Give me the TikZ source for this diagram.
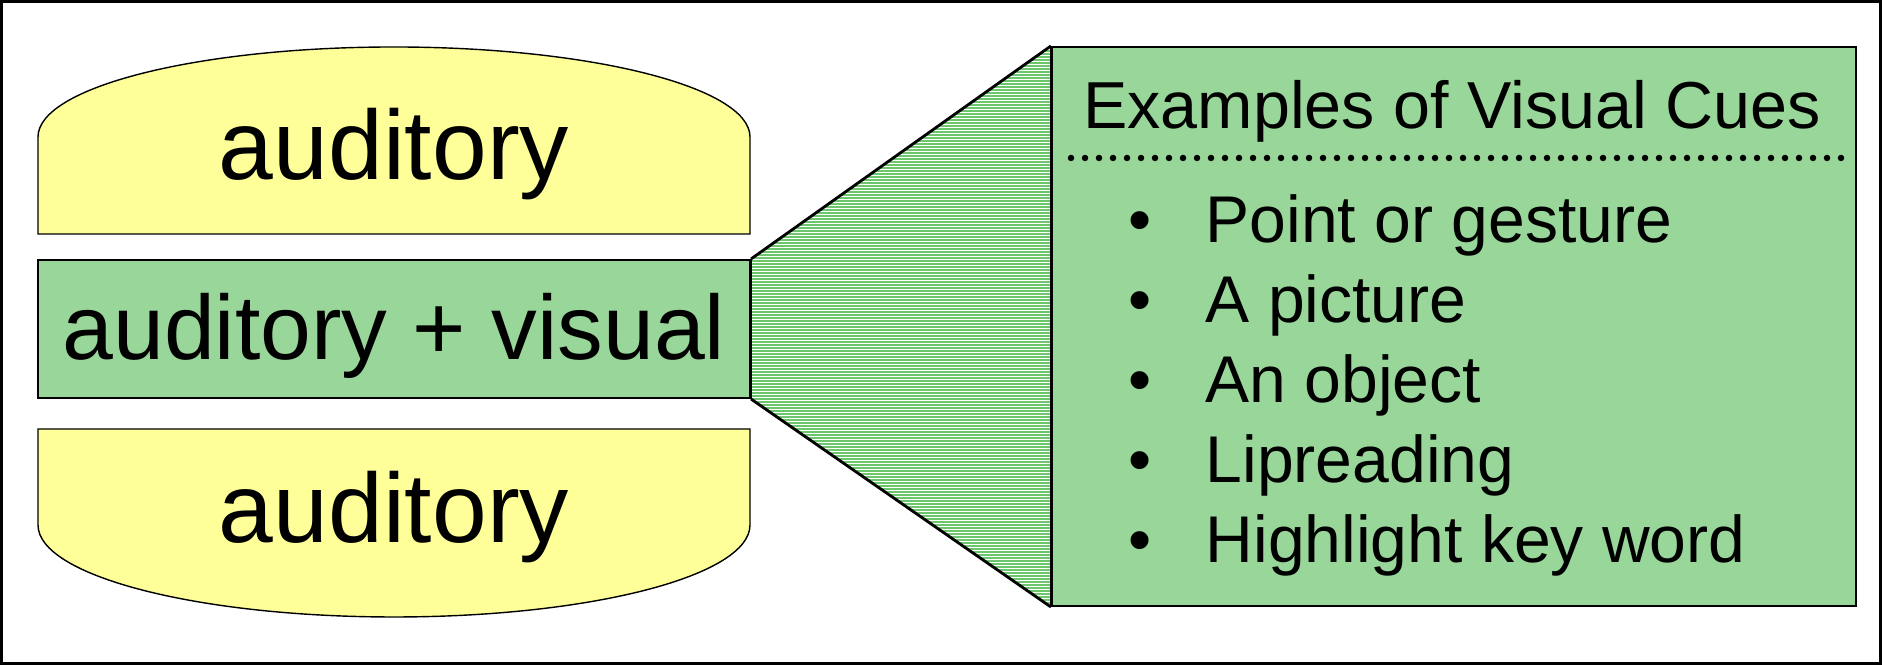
\documentclass[tikz,border=0pt]{standalone}
\usepackage{fontspec}
\setmainfont{Liberation Sans}

\definecolor{cueyellow}{RGB}{255,255,153}
\definecolor{cuegreen}{RGB}{153,214,153}
\definecolor{hatchgreen}{RGB}{108,198,108}

\tikzset{
	yellowbox/.style = {draw=black, line width=0.4pt, fill=cueyellow},
	greenbox/.style = {draw=black, line width=0.6pt, fill=cuegreen, inner sep=0pt},
	bigtext/.style = {font=\fontsize{28}{30}\selectfont, inner sep=0pt},
	midtext/.style = {font=\fontsize{26}{28}\selectfont, inner sep=0pt},
	titletext/.style = {font=\fontsize{18.9}{21}\selectfont, inner sep=0pt},
	itemtext/.style = {font=\fontsize{18.8}{21}\selectfont, inner sep=0pt},
	hatchline/.style = {hatchgreen, line width=0.019cm},
	dotline/.style = {line width=0.065cm, line cap=round, dash pattern=on 0pt off 0.14cm}
}

\begin{document}
\begin{tikzpicture}
						\useasboundingbox (0,0) rectangle (18.82,6.65);
						\draw[line width=0.03cm] (0.015,0.015) rectangle (18.805,6.635);

						% top and bottom auditory shapes
						\draw[yellowbox] (0.38,4.31) -- (0.38,5.28)
							arc[start angle=180, end angle=0, x radius=3.56, y radius=0.90] -- (7.50,4.31) -- cycle;
						\draw[yellowbox] (0.38,2.36) -- (0.38,1.40)
							arc[start angle=180, end angle=360, x radius=3.56, y radius=0.92] -- (7.50,2.36) -- cycle;
						\node[bigtext, anchor=base] (audtop) at (3.94,4.85) {auditory};
						\node[bigtext, anchor=base] (audbot) at (3.94,1.22) {auditory};

						% middle box and the cue box
						\node[greenbox, minimum width=7.12cm, minimum height=1.38cm] (mid) at (3.94,3.36) {};
						\node[midtext, anchor=base] (midlabel) at (3.94,3.05) {auditory + visual};
						\node[greenbox, minimum width=8.04cm, minimum height=5.59cm] (cues) at (14.54,3.385) {};

						% hatched funnel between the two
						\begin{scope}
							\clip (mid.north east) -- (cues.north west) -- (cues.south west) -- (mid.south east) -- cycle;
							\foreach \y in {0.59,0.62,...,6.20}
								\draw[hatchline] (7.40,\y) -- (10.60,\y);
						\end{scope}
						\draw[line width=0.8pt] (mid.north east) -- (cues.north west);
						\draw[line width=0.8pt] (mid.south east) -- (cues.south west);
						\draw[line width=0.6pt] (mid.north east) -- (mid.south east);
						\draw[line width=0.6pt] (cues.north west) -- (cues.south west);

						% title and list
						\node[titletext, anchor=base] (title) at (14.52,5.36) {Examples of Visual Cues};
						\draw[dotline] (10.71,5.07) -- (18.46,5.07);
						\foreach \txt [count=\i] in {Point or gesture, A picture, An object, Lipreading, Highlight key word} {
							\node[itemtext, anchor=base] (bul\i) at (11.40,{4.22-0.80*(\i-1)}) {\textbullet};
							\node[itemtext, anchor=base west] (item\i) at (12.05,{4.22-0.80*(\i-1)}) {\txt};
						}
					\end{tikzpicture}
\end{document}
